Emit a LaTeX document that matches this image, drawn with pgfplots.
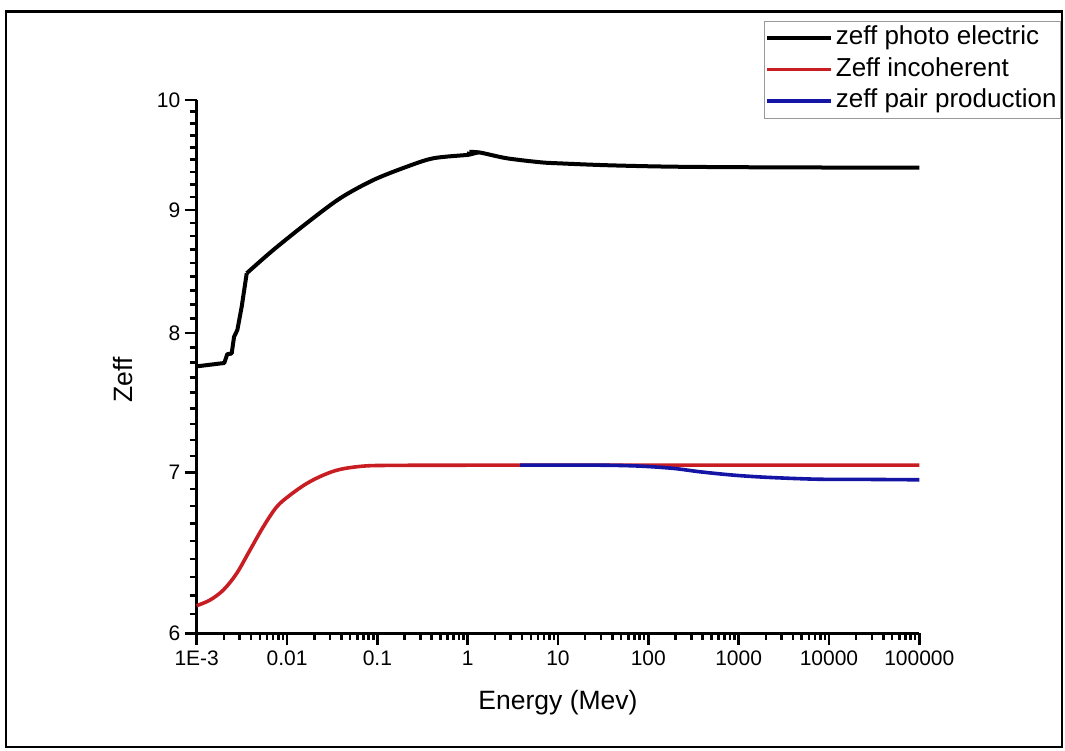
\documentclass[border=0pt]{standalone}
\usepackage{fontspec}
\setmainfont{Liberation Sans}
\usepackage{pgfplots}
\pgfplotsset{compat=1.18}
\definecolor{cblack}{RGB}{0,0,0}
\definecolor{cred}{RGB}{200,30,35}
\definecolor{cblue}{RGB}{20,20,165}
\begin{document}
\begin{tikzpicture}[x=1pt,y=1pt]
\path[use as bounding box] (0,0) rectangle (1065,751);
\draw[line width=2.8pt] (6,4) rectangle (1062,739.5);
\begin{axis}[
  at={(196.7pt,117.7pt)}, anchor=south west,
  scale only axis, width=722.6pt, height=533.3pt,
  xmode=log, ymode=log,
  xmin=1e-3, xmax=1e5, ymin=6, ymax=10,
  axis x line*=bottom, axis y line*=left,
  xtick pos=bottom, ytick pos=left,
  axis line style={line width=3.2pt, black},
  tick align=outside,
  major tick length=12pt, minor tick length=7pt,
  every tick/.style={line width=2.6pt, black},
  xtick={1e-3,1e-2,1e-1,1,10,100,1000,10000,100000},
  xticklabels={1E-3,0.01,0.1,1,10,100,1000,10000,100000},
  minor xtick={2e-3,3e-3,4e-3,5e-3,6e-3,7e-3,8e-3,9e-3,
    2e-2,3e-2,4e-2,5e-2,6e-2,7e-2,8e-2,9e-2,
    2e-1,3e-1,4e-1,5e-1,6e-1,7e-1,8e-1,9e-1,
    2,3,4,5,6,7,8,9,20,30,40,50,60,70,80,90,
    200,300,400,500,600,700,800,900,
    2000,3000,4000,5000,6000,7000,8000,9000,
    20000,30000,40000,50000,60000,70000,80000,90000},
  ytick={6,7,8,9,10},
  yticklabels={6,7,8,9,10},
  minor ytick={6.111,6.222,6.333,6.444,6.556,6.667,6.778,6.889,
    7.111,7.222,7.333,7.444,7.556,7.667,7.778,7.889,
    8.111,8.222,8.333,8.444,8.556,8.667,8.778,8.889,
    9.111,9.222,9.333,9.444,9.556,9.667,9.778,9.889},
  ticklabel style={font=\fontsize{21}{24}\selectfont},
  /pgf/number format/assume math mode=true,
  xticklabel style={yshift=-2pt},
  yticklabel style={xshift=-1pt},
  xlabel={Energy (Mev)},
  ylabel={Zeff},
  label style={font=\fontsize{26.5}{30}\selectfont},
  xlabel style={at={(axis description cs:0.5,-0.1307)}, anchor=center},
  ylabel style={at={(axis description cs:-0.102,0.475)}, anchor=center},
  legend style={at={(axis description cs:1.196,1.148)}, anchor=north east,
    draw=gray!80, line width=0.8pt, fill=white,
    font=\fontsize{26}{30}\selectfont,
    inner xsep=1pt, inner ysep=1pt, row sep=0pt,
    nodes={inner xsep=3pt, inner ysep=3.5pt, text height=19pt, text depth=5.5pt}},
  legend cell align=left,
  legend image code/.code={\draw[#1, line width=3.6pt] (-6pt,0pt) -- (58pt,0pt);},
  clip=false,
]
\addplot[cblack, line width=4pt, line join=round] coordinates {
(1e-3,7.749) (2.02e-3,7.774) (2.18e-3,7.840) (2.44e-3,7.845) (2.59e-3,7.971)
(2.82e-3,8.023) (3.15e-3,8.204) (3.58e-3,8.471)
};
\addlegendentry{zeff photo electric}
\addplot[cred, line width=3.6pt, smooth, tension=0.55] coordinates {
(1e-3,6.161) (1.40e-3,6.194) (1.97e-3,6.254) (2.77e-3,6.354) (3.89e-3,6.498)
(5.47e-3,6.645) (7.69e-3,6.773) (0.0108,6.849) (0.0165,6.926) (0.0252,6.982)
(0.0386,7.020) (0.070,7.042) (0.138,7.047) (1,7.049) (100,7.049) (1e5,7.049)
};
\addlegendentry{Zeff incoherent}
\addplot[cblue, line width=3.6pt, smooth, tension=0.5] coordinates {
(3.8,7.049) (29.3,7.049) (81,7.042) (190,7.027) (375,7.004) (876,6.982)
(2052,6.967) (7345,6.955) (2.63e4,6.953) (1e5,6.951)
};
\addlegendentry{zeff pair production}
\addplot[cblack, line width=4pt, smooth, tension=0.5, forget plot] coordinates {
(3.58e-3,8.471) (7.05e-3,8.662) (0.0165,8.887)
(0.0386,9.101) (0.0903,9.262) (0.212,9.381) (0.417,9.457) (0.977,9.487) (1.02,9.490)
};
\addplot[cblack, line width=4pt, line join=round, forget plot] coordinates {
(1.02,9.490) (1.044,9.514)
};
\addplot[cblack, line width=4pt, smooth, tension=0.5, forget plot] coordinates {
(1.044,9.514) (1.372,9.509) (2.71,9.457) (6.34,9.421)
(9.7,9.412) (34.7,9.394) (190,9.381) (2428,9.375) (1e5,9.372)
};
\end{axis}
\end{tikzpicture}
\end{document}
